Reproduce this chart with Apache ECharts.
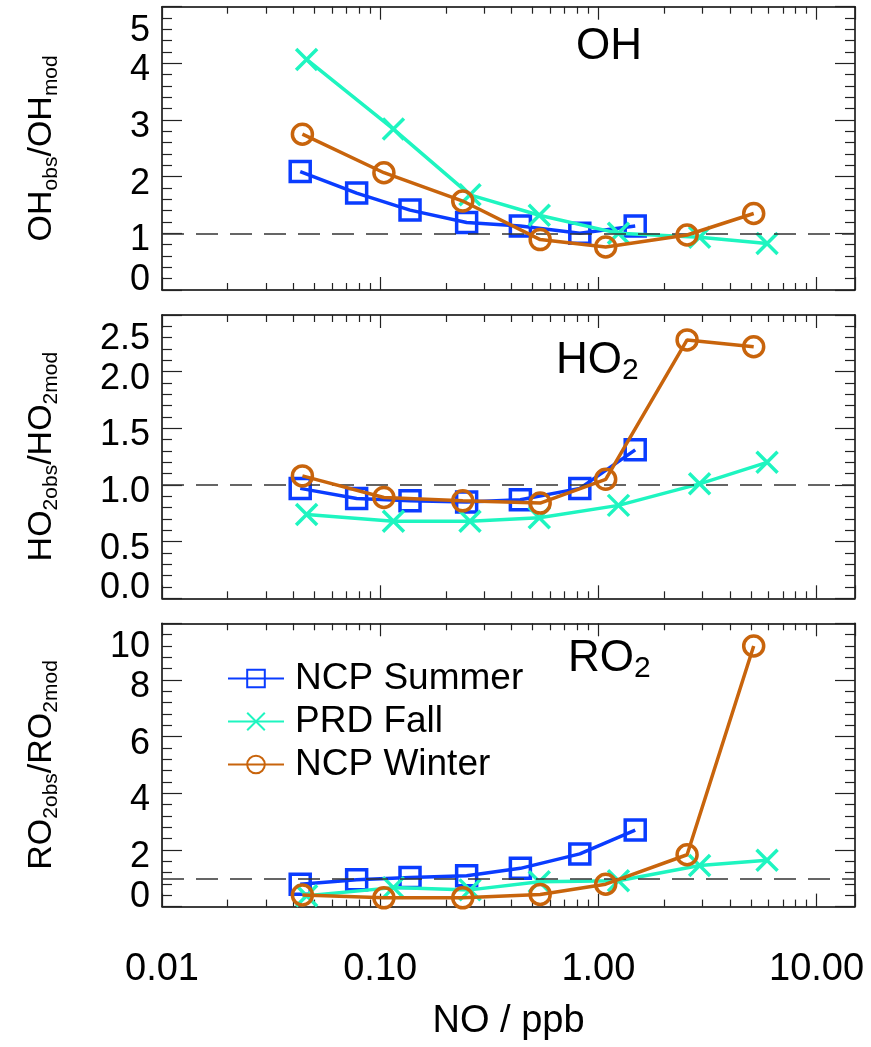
<!DOCTYPE html>
<html>
<head>
<meta charset="utf-8">
<script src="https://cdn.jsdelivr.net/npm/echarts@6/dist/echarts.min.js"></script>
<style>
  html, body { margin: 0; padding: 0; background: #fff; }
  #chart { width: 871px; height: 1047px; }
</style>
</head>
<body>
<div id="chart"></div>
<script>
// ---- data (NO in ppb, ratios obs/mod) ----
const seriesNames = ['NCP Summer', 'PRD Fall', 'NCP Winter'];
const noSummer = [0.043, 0.078, 0.137, 0.249, 0.439, 0.822, 1.475];
const noPRD    = [0.046, 0.115, 0.258, 0.536, 1.236, 2.91, 5.93];
const noWinter = [0.044, 0.104, 0.239, 0.541, 1.08, 2.55, 5.15];

const ohSummer = [2.09, 1.71, 1.41, 1.19, 1.13, 1.00, 1.13];
const ohPRD    = [4.07, 2.84, 1.68, 1.32, 1.00, 0.93, 0.82];
const ohWinter = [2.75, 2.07, 1.57, 0.89, 0.76, 0.97, 1.35];

const ho2Summer = [0.97, 0.88, 0.86, 0.85, 0.87, 0.97, 1.31];
const ho2PRD    = [0.74, 0.68, 0.68, 0.71, 0.82, 1.01, 1.20];
const ho2Winter = [1.08, 0.89, 0.86, 0.84, 1.05, 2.28, 2.22];

const ro2Summer = [0.79, 0.95, 1.03, 1.09, 1.35, 1.86, 2.70];
const ro2PRD    = [0.38, 0.67, 0.59, 0.88, 0.91, 1.45, 1.64];
const ro2Winter = [0.41, 0.31, 0.31, 0.43, 0.79, 1.83, 9.2];

const xTickLabels = {'-2': '0.01', '-1': '0.10', '0': '1.00', '1': '10.00'};
const yRanges = [[0, 5, 1], [0, 2.5, 0.5], [0, 10, 2]];
const yDecimals = [0, 1, 0];
const yNames = [
  '{m|OH}{s|obs}{m|/OH}{s|mod}',
  '{m|HO}{s|2obs}{m|/HO}{s|2mod}',
  '{m|RO}{s|2obs}{m|/RO}{s|2mod}'
];
const panelTitles = ['{m|OH}', '{m|HO}{s|2}', '{m|RO}{s|2}'];
const refLine = 1;

// ---- styles ----
const FONT = '"Liberation Sans", Arial, Helvetica, sans-serif';
const colors = ['#0a3cff', '#1ef5c0', '#c8640c'];
const symbols = ['rect', 'path://M0,0L10,10M10,0L0,10', 'circle'];
const symbolSizes = [20, 21, 20];
const gridTops = [6.7, 315, 623.3];
const gridH = 283.3;
const gridLeft = 162;
const gridW = 693;

const grids = gridTops.map(t => ({ left: gridLeft, top: t, width: gridW, height: gridH, containLabel: false }));

const axisLineStyle = { show: true, onZero: false, lineStyle: { color: '#000', width: 1.5 } };
const yLabelBase = { margin: 12, fontSize: 36, color: '#000', fontFamily: FONT, lineHeight: 20 };

const xAxes = [];
const yAxes = [];
for (let g = 0; g < 3; g++) {
  ['bottom', 'top'].forEach(pos => {
    const showLabels = (g === 2 && pos === 'bottom');
    xAxes.push({
      type: 'log', logBase: 10, min: 0.01, max: 15, gridIndex: g, position: pos,
      axisLine: axisLineStyle,
      axisTick: { show: true, inside: true, length: 13, lineStyle: { color: '#222', width: 1.2 } },
      minorTick: { show: true, splitNumber: 9, length: 7, lineStyle: { color: '#222', width: 1.2 } },
      splitLine: { show: false },
      axisLabel: {
        show: showLabels, margin: 44, fontSize: 38, color: '#000', fontFamily: FONT,
        formatter: v => {
          const e = Math.log10(v);
          const r = Math.round(e);
          return Math.abs(e - r) < 1e-6 && xTickLabels[String(r)] !== undefined ? xTickLabels[String(r)] : '';
        }
      },
      name: showLabels ? 'NO / ppb' : '',
      nameLocation: 'middle', nameGap: 96,
      nameTextStyle: { fontSize: 38, color: '#000', fontFamily: FONT }
    });
  });
  const [mn, mx, iv] = yRanges[g];
  // left axis: frame, ticks, labels (except the top one), name
  yAxes.push({
    type: 'value', min: mn, max: mx, interval: iv, gridIndex: g, position: 'left',
    axisLine: axisLineStyle,
    axisTick: { show: true, inside: true, length: 20, lineStyle: { color: '#222', width: 1.2 } },
    minorTick: { show: true, splitNumber: 5, length: 10, lineStyle: { color: '#222', width: 1.2 } },
    splitLine: { show: false },
    axisLabel: Object.assign({}, yLabelBase, {
      show: true, showMinLabel: true, showMaxLabel: false,
      verticalAlignMinLabel: 'bottom',
      formatter: v => (Math.abs(v - mn) < 1e-9 ? v.toFixed(yDecimals[g]) : '{d|' + v.toFixed(yDecimals[g]) + '}'),
      rich: { d: { fontSize: 36, color: '#000', fontFamily: FONT, padding: [14, 0, 0, 0] } }
    }),
    name: yNames[g],
    nameLocation: 'middle', nameGap: 100, nameRotate: 90,
    nameTextStyle: {
      color: '#000', fontFamily: FONT,
      rich: {
        m: { fontSize: 34, fontFamily: FONT, color: '#000', verticalAlign: 'middle', lineHeight: 40 },
        s: { fontSize: 21, fontFamily: FONT, color: '#000', verticalAlign: 'bottom', lineHeight: 18 }
      }
    }
  });
  // right axis: frame and ticks only
  yAxes.push({
    type: 'value', min: mn, max: mx, interval: iv, gridIndex: g, position: 'right',
    axisLine: axisLineStyle,
    axisTick: { show: true, inside: true, length: 20, lineStyle: { color: '#222', width: 1.2 } },
    minorTick: { show: true, splitNumber: 5, length: 10, lineStyle: { color: '#222', width: 1.2 } },
    splitLine: { show: false },
    axisLabel: { show: false }
  });
  // extra left axis: only the top tick label
  yAxes.push({
    type: 'value', min: mn, max: mx, interval: iv, gridIndex: g, position: 'left',
    axisLine: { show: false }, axisTick: { show: false }, minorTick: { show: false },
    splitLine: { show: false },
    axisLabel: Object.assign({}, yLabelBase, {
      show: true, showMinLabel: false, showMaxLabel: true,
      padding: [14, 0, 0, 0],
      verticalAlignMaxLabel: 'top',
      formatter: v => (Math.abs(v - mx) < 1e-9 ? v.toFixed(yDecimals[g]) : '')
    })
  });
}

const panelData = [
  [ohSummer, ohPRD, ohWinter],
  [ho2Summer, ho2PRD, ho2Winter],
  [ro2Summer, ro2PRD, ro2Winter]
];
const noArrays = [noSummer, noPRD, noWinter];

const series = [];
for (let g = 0; g < 3; g++) {
  for (let k = 0; k < 3; k++) {
    const s = {
      name: seriesNames[k],
      type: 'line',
      xAxisIndex: g * 2, yAxisIndex: g * 3,
      data: noArrays[k].map((x, i) => [x, panelData[g][k][i]]),
      symbol: symbols[k],
      symbolSize: symbolSizes[k],
      color: colors[k],
      itemStyle: { color: 'rgba(0,0,0,0)', borderColor: colors[k], borderWidth: 3.5 },
      lineStyle: { color: colors[k], width: 3.5 },
      z: 3 + k,
      animation: false
    };
    if (k === 0) {
      s.markLine = {
        silent: true, symbol: 'none', animation: false,
        label: { show: false },
        lineStyle: { color: '#333', width: 1.5, type: [22, 12] },
        data: [{ yAxis: refLine }]
      };
    }
    series.push(s);
  }
}

const titleRich = {
  m: { fontSize: 44, fontFamily: FONT, fontWeight: 'normal', color: '#000', verticalAlign: 'middle', lineHeight: 50 },
  s: { fontSize: 30, fontFamily: FONT, fontWeight: 'normal', color: '#000', verticalAlign: 'bottom', lineHeight: 22 }
};
const titlePos = [[576, 22], [556, 336], [568, 634]];
const titles = panelTitles.map((t, i) => ({
  text: t, left: titlePos[i][0], top: titlePos[i][1], padding: 0,
  textStyle: { rich: titleRich, fontFamily: FONT, fontWeight: 'normal' }
}));

const chart = echarts.init(document.getElementById('chart'), null, { renderer: 'canvas' });
chart.setOption({
  backgroundColor: '#fff',
  animation: false,
  title: titles,
  grid: grids,
  xAxis: xAxes,
  yAxis: yAxes,
  legend: {
    data: seriesNames,
    orient: 'vertical', left: 222, top: 655,
    itemWidth: 56, itemHeight: 22, itemGap: 6,
    selectedMode: false,
    textStyle: { fontSize: 37, color: '#000', fontFamily: FONT, padding: [0, 0, 0, 6], lineHeight: 36 }
  },
  series: series
});
</script>
</body>
</html>
